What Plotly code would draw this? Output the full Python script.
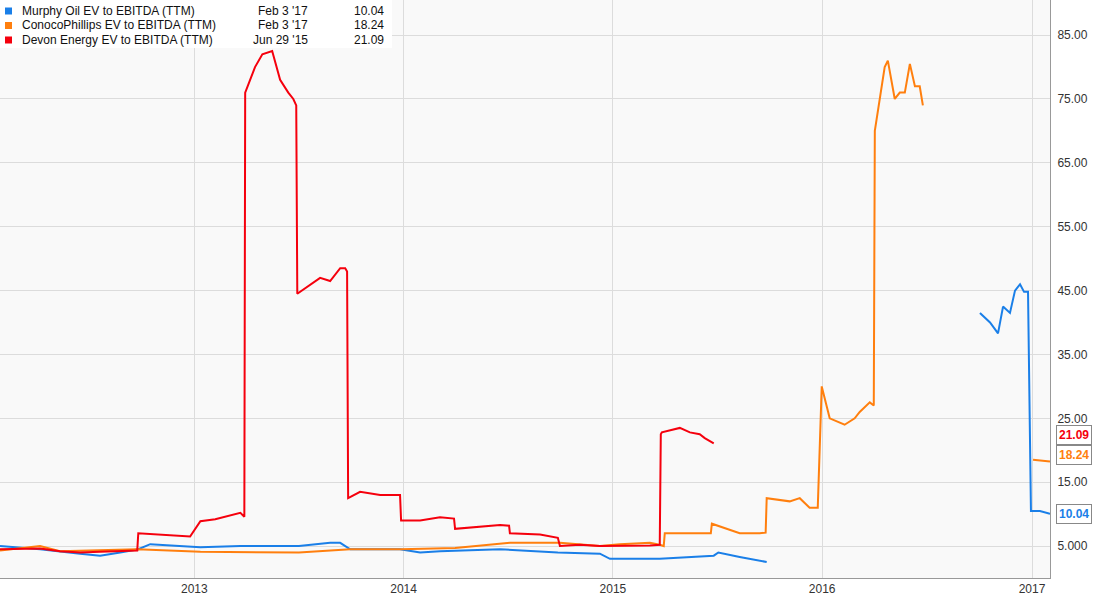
import plotly.graph_objects as go
import datetime as dt

def todate(y):
    yr = int(y)
    start = dt.datetime(yr, 1, 1)
    days = (dt.datetime(yr + 1, 1, 1) - start).days
    return start + dt.timedelta(days=(y - yr) * days)

# decimal-year times and values; None = data gap
red_t = [2012.074,2012.265,2012.36,2012.456,2012.551,2012.647,2012.728,2012.733,2012.79,2012.98,2013.029,2013.10,2013.22,2013.239,2013.243,2013.29,2013.325,2013.372,2013.41,2013.449,2013.473,2013.487,2013.492,2013.554,2013.601,2013.649,2013.697,2013.721,2013.730,2013.735,2013.792,2013.888,2013.983,2013.988,2014.079,2014.174,2014.241,2014.246,2014.365,2014.461,2014.504,2014.508,2014.652,2014.737,2014.747,2014.842,2014.938,2015.033,2015.177,2015.224,2015.229,2015.234,2015.32,2015.368,2015.415,2015.439,2015.482]
red_v = [4.5,4.6,4.2,4.0,4.1,4.2,4.3,7.0,6.9,6.5,8.9,9.2,10.2,9.6,76,80,82,82.5,78,76,75,74,44.5,46,47,46.5,48.5,48.5,48,12.5,13.5,13,13,9,9,9.5,9.3,7.7,8.0,8.3,8.2,7.0,6.8,6.3,5.0,5.2,5.0,5.0,5.1,5.2,22.5,22.8,23.5,22.8,22.5,21.9,21.09]

orange_t = [2012.074,2012.265,2012.36,2012.456,2012.551,2012.728,2013.029,2013.5,2013.745,2013.988,2014.246,2014.508,2014.747,2014.938,2015.033,2015.177,2015.224,2015.243,2015.248,2015.415,2015.468,2015.473,2015.606,2015.702,2015.73,2015.735,2015.845,2015.893,2015.94,2015.979,2015.998,2016.036,2016.107,2016.155,2016.179,2016.227,2016.246,2016.251,2016.298,2016.313,2016.346,2016.37,2016.394,2016.418,2016.442,2016.465,2016.48,2016.7,2017.005,2017.062,2017.086]
orange_v = [4.3,5.0,4.2,4.3,4.4,4.5,4.1,4.0,4.5,4.5,4.7,5.5,5.5,5.0,5.3,5.5,5.2,5.0,7.0,7.0,7.0,8.5,7.0,7.0,7.1,12.5,12.0,12.5,11.0,11.0,30,25,24,25,26,27.5,27,70,80,81,75,76,76,80.5,77,77,74,None,18.5,18.3,18.24]

blue_t = [2012.074,2012.265,2012.456,2012.551,2012.647,2012.733,2012.79,2013.029,2013.22,2013.5,2013.649,2013.697,2013.745,2013.983,2014.079,2014.174,2014.461,2014.737,2014.938,2014.986,2015.129,2015.224,2015.482,2015.504,2015.606,2015.654,2015.735,2016.3,2016.752,2016.80,2016.838,2016.862,2016.895,2016.919,2016.943,2016.962,2016.981,2016.995,2017.038,2017.086]
blue_v = [5.0,4.5,3.8,3.5,4.0,4.5,5.3,4.8,5.0,5.0,5.5,5.5,4.5,4.5,4.0,4.2,4.5,4.0,3.8,3.0,3.0,3.0,3.5,4.0,3.3,3.0,2.5,None,41.5,40,38.3,42.5,41.5,45,46,44.8,44.8,10.5,10.5,10.04]

names = ["Murphy Oil EV to EBITDA (TTM)", "ConocoPhillips EV to EBITDA (TTM)", "Devon Energy EV to EBITDA (TTM)"]
dates = ["Feb 3 '17", "Feb 3 '17", "Jun 29 '15"]
lasts = ["10.04", "18.24", "21.09"]
colors = ["#1a7fe8", "#ff7f0e", "#f5000d"]

fig = go.Figure()
for t, v, c, n in [(blue_t, blue_v, colors[0], names[0]), (orange_t, orange_v, colors[1], names[1]), (red_t, red_v, colors[2], names[2])]:
    fig.add_trace(go.Scatter(x=[todate(a) for a in t], y=v, mode="lines", line=dict(color=c, width=2), name=n, connectgaps=False))

fig.update_layout(
    width=1113, height=603, showlegend=False,
    margin=dict(l=0, r=63, t=0, b=25, pad=0, autoexpand=False),
    paper_bgcolor="white", plot_bgcolor="#f9f9f9",
    font=dict(family="Liberation Sans, Arial", size=12, color="#333"),
    xaxis=dict(range=[todate(2012.074), todate(2017.086)], showgrid=True, gridcolor="#dcdcdc", automargin=False,
               tickvals=[dt.datetime(y, 1, 1) for y in range(2013, 2018)], ticktext=[str(y) for y in range(2013, 2018)],
               showline=True, linecolor="#999", ticks="", zeroline=False),
    yaxis=dict(side="right", range=[0, 90.5], tickvals=[5, 15, 25, 35, 45, 55, 65, 75, 85], automargin=False,
               ticktext=["5.000", "15.00", "25.00", "35.00", "45.00", "55.00", "65.00", "75.00", "85.00"],
               gridcolor="#dcdcdc", showline=True, linecolor="#999", zeroline=False, ticklabelstandoff=4),
)
# legend box
fig.add_shape(type="rect", xref="paper", yref="paper", x0=0, x1=392/1050, y0=1-48/578, y1=1,
              fillcolor="white", line=dict(width=0), layer="above")
for i in range(3):
    yy = 1 - (11 + i * 14.5) / 578
    fig.add_shape(type="rect", xref="paper", yref="paper", x0=5/1050, x1=12/1050, y0=yy - 3.5/578, y1=yy + 3.5/578,
                  fillcolor=colors[i], line=dict(width=0), layer="above")
    for xx, txt, anc in [(20, names[i], "left"), (310, dates[i], "right"), (386, lasts[i], "right")]:
        fig.add_annotation(xref="paper", yref="paper", x=xx/1050, y=yy, text=txt, showarrow=False, xanchor=anc,
                           yanchor="middle", font=dict(color="#111", size=12))
# last-value tags
for val, c, ys in [(21.09, colors[2], 8), (18.24, colors[1], 7), (10.04, colors[0], 0)]:
    fig.add_annotation(xref="paper", yref="y", x=1, y=val, text="<b>%.2f</b>" % val, showarrow=False,
                       xanchor="left", xshift=6, yshift=ys, font=dict(color=c, size=12), bgcolor="white",
                       bordercolor="#888", borderwidth=1, borderpad=2)
fig.write_html("out.html", config={"displayModeBar": False},
               post_script="document.body.style.margin='0';document.body.style.padding='0';")
